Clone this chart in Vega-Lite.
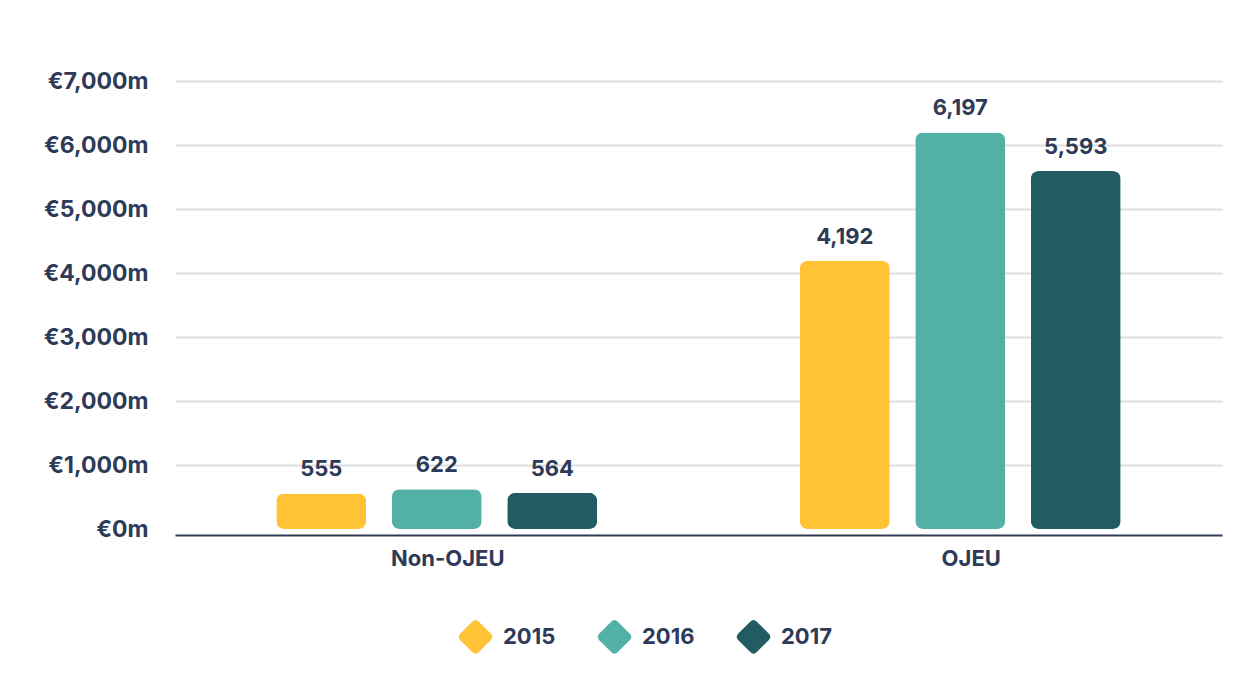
{
  "$schema": "https://vega.github.io/schema/vega-lite/v6.json",
  "autosize": {"type": "none"},
  "width": 1047,
  "height": 448,
  "padding": {"left": 175, "top": 81, "right": 36, "bottom": 148},
  "background": "white",
  "config": {
    "font": "Inter",
    "view": {"stroke": null},
    "text": {"font": "Inter"}
  },
  "data": {
    "values": [
      {"category": "Non-OJEU", "year": "2015", "value": 555},
      {"category": "Non-OJEU", "year": "2016", "value": 622},
      {"category": "Non-OJEU", "year": "2017", "value": 564},
      {"category": "OJEU", "year": "2015", "value": 4192},
      {"category": "OJEU", "year": "2016", "value": 6197},
      {"category": "OJEU", "year": "2017", "value": 5593}
    ]
  },
  "encoding": {
    "x": {
      "field": "category",
      "type": "nominal",
      "scale": {"paddingInner": 0, "paddingOuter": 0},
      "axis": {
        "title": null,
        "labelAngle": 0,
        "labelFont": "Inter",
        "labelFontSize": 22,
        "labelFontWeight": "bold",
        "labelColor": "#2E3A57",
        "labelPadding": 13,
        "labelOffset": 11,
        "ticks": false,
        "domainColor": "#2E3A57",
        "domainWidth": 2,
        "offset": 6,
        "grid": false
      }
    },
    "xOffset": {
      "field": "year",
      "type": "nominal",
      "scale": {"paddingInner": 0.221, "paddingOuter": 0.877}
    },
    "y": {
      "field": "value",
      "type": "quantitative",
      "scale": {"domain": [0, 7000]},
      "axis": {
        "title": null,
        "values": [0, 1000, 2000, 3000, 4000, 5000, 6000, 7000],
        "labelExpr": "'€' + format(datum.value, ',') + 'm'",
        "labelFont": "Inter",
        "labelFontSize": 23,
        "labelFontWeight": "bold",
        "labelColor": "#2E3A57",
        "labelPadding": 27,
        "ticks": false,
        "domain": false,
        "gridColor": "#DEDEDE",
        "gridWidth": 2,
        "gridOpacity": {"condition": {"test": "datum.value === 0", "value": 0}, "value": 1}
      }
    }
  },
  "layer": [
    {
      "mark": {"type": "bar", "cornerRadius": 8},
      "encoding": {
        "color": {
          "field": "year",
          "type": "nominal",
          "scale": {"domain": ["2015", "2016", "2017"], "range": ["#FFC335", "#52B0A5", "#215C63"]},
          "legend": {
            "title": null,
            "orient": "none",
            "direction": "horizontal",
            "legendX": 282,
            "legendY": 537,
            "padding": 0,
            "symbolType": "M-0.82,-0.18L-0.18,-0.82Q0,-1 0.18,-0.82L0.82,-0.18Q1,0 0.82,0.18L0.18,0.82Q0,1 -0.18,0.82L-0.82,0.18Q-1,0 -0.82,-0.18Z",
            "symbolSize": 1369,
            "symbolStrokeWidth": 0,
            "symbolOpacity": 1,
            "labelFont": "Inter",
            "labelFontSize": 22,
            "labelFontWeight": "bold",
            "labelColor": "#2E3A57",
            "labelOffset": 9,
            "columnPadding": 40
          }
        }
      }
    },
    {
      "mark": {
        "type": "text",
        "dy": -17,
        "baseline": "alphabetic",
        "font": "Inter",
        "fontSize": 22,
        "fontWeight": "bold",
        "color": "#2E3A57"
      },
      "encoding": {
        "text": {"field": "value", "type": "quantitative", "format": ","}
      }
    }
  ]
}
